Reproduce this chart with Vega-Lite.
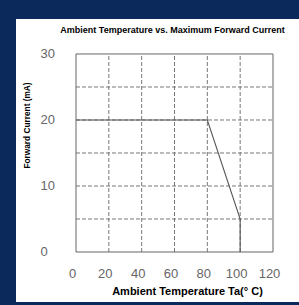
{
  "$schema": "https://vega.github.io/schema/vega-lite/v6.json",
  "autosize": {"type": "none"},
  "width": 283,
  "height": 283,
  "padding": {"left": 16, "top": 19, "right": 0, "bottom": 3},
  "background": "#0b2a5b",
  "config": {
    "view": {"fill": "white", "stroke": null},
    "font": "Liberation Sans"
  },
  "title": {
    "text": "Ambient Temperature vs. Maximum Forward Current",
    "font": "Liberation Sans",
    "fontSize": 9,
    "fontWeight": "bold",
    "color": "#000000",
    "anchor": "middle",
    "baseline": "middle",
    "offset": -20,
    "dx": 15
  },
  "datasets": {
    "frame": [{"x0": 0, "x1": 120, "y0": 0, "y1": 30}],
    "vgrid": [{"gx": 20}, {"gx": 40}, {"gx": 60}, {"gx": 80}, {"gx": 100}],
    "hgrid": [{"gy": 5}, {"gy": 10}, {"gy": 15}, {"gy": 20}, {"gy": 25}],
    "curve": [
      {"temp": 0, "current": 20, "order": 1},
      {"temp": 80, "current": 20, "order": 2},
      {"temp": 100, "current": 5, "order": 3},
      {"temp": 100, "current": 0, "order": 4}
    ]
  },
  "layer": [
    {
      "data": {"name": "vgrid"},
      "mark": {"type": "rule", "color": "#777777", "strokeWidth": 1, "strokeDash": [4, 2]},
      "encoding": {
        "x": {"field": "gx", "type": "quantitative",
          "scale": {"domain": [-36.55, 135.84], "nice": false, "zero": false},
          "axis": {
            "values": [0, 20, 40, 60, 80, 100, 120],
            "grid": false, "domain": false, "ticks": false, "tickSize": 0,
            "offset": -35, "labelPadding": 0, "labelOffset": -4,
            "labelFont": "Liberation Sans", "labelFontSize": 13, "labelColor": "#666666",
            "labelBaseline": "top",
            "title": "Ambient Temperature Ta(° C)",
            "titleFont": "Liberation Sans", "titleFontSize": 11, "titleFontWeight": "bold",
            "titleColor": "#000000",
            "titleX": 171, "titleY": 24, "titleBaseline": "middle"
          }
        },
        "y": {"datum": 0, "type": "quantitative",
          "scale": {"domain": [-7.576, 35.30], "nice": false, "zero": false},
          "axis": {
            "values": [0, 10, 20, 30],
            "grid": false, "domain": false, "ticks": false, "tickSize": 0,
            "offset": -24, "labelPadding": 0, "labelAlign": "left",
            "labelFont": "Liberation Sans", "labelFontSize": 13, "labelColor": "#666666",
            "title": "Forward Current (mA)",
            "titleFont": "Liberation Sans", "titleFontSize": 8.3, "titleFontWeight": "bold",
            "titleColor": "#000000",
            "titleX": -13, "titleY": 106, "titleBaseline": "middle", "titleAngle": -90
          }
        },
        "y2": {"datum": 30}
      }
    },
    {
      "data": {"name": "hgrid"},
      "mark": {"type": "rule", "color": "#777777", "strokeWidth": 1, "strokeDash": [4, 2]},
      "encoding": {
        "y": {"field": "gy", "type": "quantitative", "scale": {"domain": [-7.576, 35.30], "nice": false, "zero": false}},
        "x": {"datum": 0, "type": "quantitative", "scale": {"domain": [-36.55, 135.84], "nice": false, "zero": false}},
        "x2": {"datum": 120}
      }
    },
    {
      "data": {"name": "frame"},
      "mark": {"type": "rect", "fill": null, "fillOpacity": 0, "stroke": "#666666", "strokeWidth": 1},
      "encoding": {
        "x": {"field": "x0", "type": "quantitative", "scale": {"domain": [-36.55, 135.84], "nice": false, "zero": false}},
        "x2": {"field": "x1"},
        "y": {"field": "y0", "type": "quantitative", "scale": {"domain": [-7.576, 35.30], "nice": false, "zero": false}},
        "y2": {"field": "y1"}
      }
    },
    {
      "data": {"name": "curve"},
      "mark": {"type": "line", "color": "#555555", "strokeWidth": 1.1},
      "encoding": {
        "x": {"field": "temp", "type": "quantitative", "scale": {"domain": [-36.55, 135.84], "nice": false, "zero": false}},
        "y": {"field": "current", "type": "quantitative", "scale": {"domain": [-7.576, 35.30], "nice": false, "zero": false}},
        "order": {"field": "order"}
      }
    }
  ]
}
